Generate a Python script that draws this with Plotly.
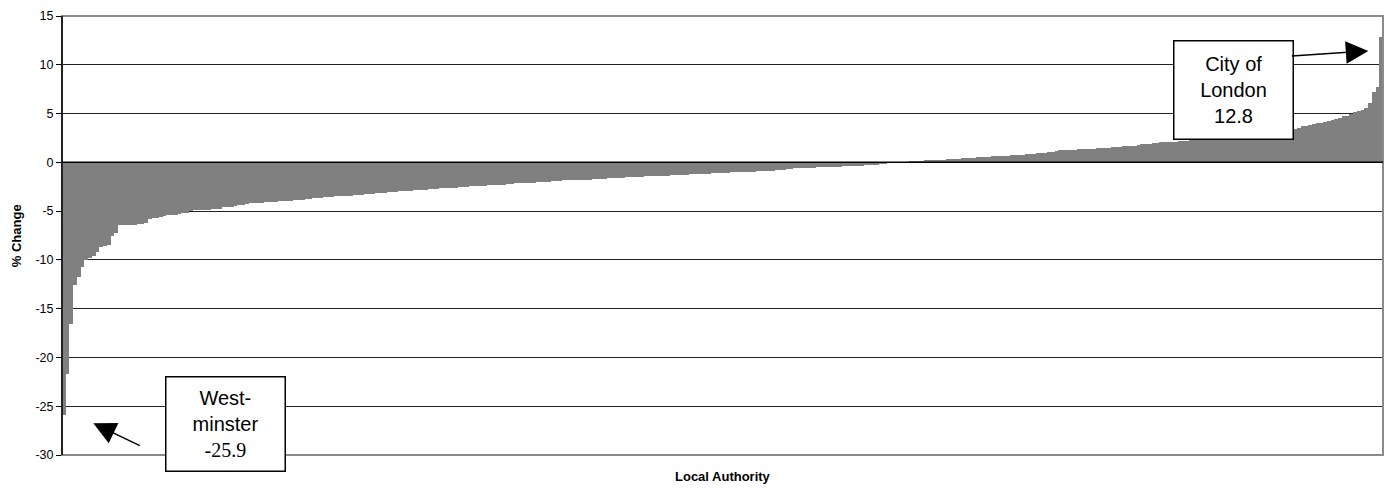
import plotly.graph_objects as go

# % change per local authority, sorted ascending
pct_change_falling = [
    -25.9, -21.7, -16.6, -12.6, -11.8, -10.75, -10.0, -9.8, -9.55, -9.2,
    -8.7, -8.6, -8.5, -7.5, -7.2, -6.45, -6.45, -6.4, -6.4, -6.4,
    -6.35, -6.3, -6.25, -5.8, -5.75, -5.7, -5.6, -5.55, -5.4, -5.4,
    -5.35, -5.25, -5.2, -5.15, -4.95, -4.9, -4.9, -4.9, -4.85, -4.85,
    -4.8, -4.8, -4.75, -4.6, -4.55, -4.55, -4.5, -4.4, -4.35, -4.3,
    -4.2, -4.2, -4.15, -4.15, -4.1, -4.1, -4.05, -4.05, -4.0, -3.98,
    -3.95, -3.95, -3.9, -3.85, -3.82, -3.8, -3.78, -3.7, -3.66, -3.63,
    -3.6, -3.58, -3.52, -3.5, -3.47, -3.45, -3.43, -3.4, -3.35, -3.32,
    -3.3, -3.27, -3.25, -3.2, -3.15, -3.13, -3.1, -3.08, -3.05, -3.0,
    -2.97, -2.95, -2.93, -2.9, -2.85, -2.83, -2.81, -2.8, -2.78, -2.76,
    -2.72, -2.67, -2.65, -2.63, -2.61, -2.6, -2.55, -2.5, -2.49, -2.47,
    -2.46, -2.45, -2.43, -2.41, -2.37, -2.33, -2.31, -2.29, -2.28, -2.26,
    -2.2, -2.16, -2.14, -2.13, -2.12, -2.1, -2.08, -2.03, -2.0, -1.99,
    -1.98, -1.96, -1.93, -1.88, -1.86, -1.83, -1.82, -1.81, -1.8, -1.8,
    -1.78, -1.76, -1.75, -1.74, -1.7, -1.66, -1.65, -1.64, -1.62, -1.58,
    -1.56, -1.55, -1.54, -1.53, -1.51, -1.48, -1.45, -1.44, -1.43, -1.42,
    -1.41, -1.4, -1.37, -1.34, -1.33, -1.32, -1.28, -1.25, -1.24, -1.23,
    -1.22, -1.21, -1.2, -1.17, -1.14, -1.13, -1.12, -1.1, -1.07, -1.04,
    -1.03, -1.02, -1.01, -1.0, -0.98, -0.95, -0.93, -0.92, -0.9, -0.87,
    -0.84, -0.82, -0.8, -0.76, -0.73, -0.7, -0.63, -0.61, -0.58, -0.56,
    -0.55, -0.54, -0.52, -0.49, -0.47, -0.46, -0.45, -0.44, -0.43, -0.41,
    -0.38, -0.36, -0.35, -0.34, -0.33, -0.31, -0.28, -0.26, -0.24, -0.2,
]
pct_change_near_zero = [-0.08, -0.05, -0.03, -0.01, 0.0, 0.01, 0.03, 0.05]
pct_change_rising = [
    0.15, 0.17, 0.18, 0.2, 0.2, 0.21, 0.22, 0.24, 0.28, 0.3,
    0.3, 0.32, 0.35, 0.42, 0.44, 0.45, 0.48, 0.52, 0.54, 0.55,
    0.56, 0.6, 0.63, 0.64, 0.66, 0.7, 0.73, 0.75, 0.77, 0.8,
    0.84, 0.86, 0.9, 0.94, 0.96, 1.0, 1.07, 1.1, 1.2, 1.22,
    1.24, 1.27, 1.3, 1.31, 1.32, 1.33, 1.34, 1.35, 1.4, 1.44,
    1.46, 1.48, 1.52, 1.56, 1.58, 1.62, 1.67, 1.69, 1.7, 1.72,
    1.78, 1.86, 1.89, 1.91, 1.95, 2.02, 2.04, 2.05, 2.07, 2.1,
    2.13, 2.15, 2.18, 2.22, 2.25, 2.28, 2.32, 2.35, 2.38, 2.4,
    2.42, 2.45, 2.48, 2.5, 2.53, 2.56, 2.6, 2.63, 2.67, 2.7,
    2.74, 2.78, 2.82, 2.86, 2.9, 2.95, 3.0, 3.06, 3.12, 3.2,
    3.28, 3.36, 3.45, 3.54, 3.68, 3.72, 3.86, 3.9, 4.0, 4.05,
    4.14, 4.2, 4.33, 4.48, 4.52, 4.75, 4.8, 5.0, 5.2, 5.3,
    5.38, 5.55, 6.1, 7.22, 7.74, 12.8,
]
pct_change = pct_change_falling + pct_change_near_zero + pct_change_rising
authority_rank = list(range(1, len(pct_change) + 1))

y_ticks = [-30, -25, -20, -15, -10, -5, 0, 5, 10, 15]
y_tick_text = ["-30", "-25", "-20", "-15", "-10", "-5", "0", "5", "10", "15"]
y_title = "% Change"
x_title = "Local Authority"
lowest_label = ["West-", "minster", "-25.9"]
highest_label = ["City of", "London", "12.8"]

SANS = "Arial, Liberation Sans, sans-serif"

fig = go.Figure(
    go.Bar(
        x=authority_rank,
        y=pct_change,
        marker=dict(color="#808080", line=dict(width=0)),
        hoverinfo="y",
    )
)

fig.update_layout(
    width=1388,
    height=488,
    margin=dict(l=62, r=5, t=16, b=33),
    paper_bgcolor="white",
    plot_bgcolor="white",
    bargap=0,
    showlegend=False,
    font=dict(family=SANS, color="black"),
)
fig.update_xaxes(
    range=[0.5, len(pct_change) + 0.5],
    showticklabels=False,
    showgrid=False,
    zeroline=False,
    ticks="",
    showline=False,
    automargin=False,
)
fig.update_yaxes(
    range=[-30, 15],
    tickvals=y_ticks,
    ticktext=y_tick_text,
    ticks="outside",
    ticklen=5,
    tickwidth=1,
    tickcolor="black",
    tickfont=dict(family=SANS, size=12.5, color="black"),
    showgrid=True,
    gridcolor="#222222",
    gridwidth=1,
    zeroline=False,
    showline=False,
    automargin=False,
)

# frame, left axis and zero line
fig.add_shape(type="rect", xref="paper", yref="paper", x0=0, x1=1, y0=0, y1=1,
              line=dict(color="#8a8a8a", width=2), layer="above")
fig.add_shape(type="line", xref="paper", yref="paper", x0=0, x1=0, y0=0, y1=1,
              line=dict(color="black", width=1.5), layer="above")
fig.add_shape(type="line", xref="paper", yref="y", x0=0, x1=1, y0=0, y1=0,
              line=dict(color="black", width=1.5), layer="above")

# axis titles
fig.add_annotation(text="<b>%s</b>" % y_title, xref="paper", yref="paper",
                   x=-0.0343, y=0.5, xanchor="center", yanchor="middle",
                   textangle=-90, showarrow=False,
                   font=dict(family=SANS, size=13, color="black"))
fig.add_annotation(text="<b>%s</b>" % x_title, xref="paper", yref="paper",
                   x=0.5, y=-0.05, xanchor="center", yanchor="middle",
                   showarrow=False,
                   font=dict(family=SANS, size=13, color="black"))

# callout boxes
fig.add_annotation(
    text="%s<br>%s<br><span style=\"font-family:Liberation Serif, Times New Roman, serif\">%s</span>"
    % tuple(lowest_label),
    xref="paper", yref="paper", x=0.1234, y=0.0702,
    xanchor="center", yanchor="middle", showarrow=False,
    width=118, height=93, borderpad=0, borderwidth=1.5, bordercolor="black",
    bgcolor="white", font=dict(family=SANS, size=20, color="black"),
)
fig.add_annotation(
    text="<br>".join(highest_label),
    xref="paper", yref="paper", x=0.8865, y=0.8321,
    xanchor="center", yanchor="middle", showarrow=False,
    width=118, height=97, borderpad=0, borderwidth=1.5, bordercolor="black",
    bgcolor="white", font=dict(family=SANS, size=20, color="black"),
)

# arrows
fig.add_annotation(text="", xref="paper", yref="paper", x=0.0237, y=0.0722,
                   ax=48, ay=23, showarrow=True, arrowhead=2, arrowsize=3,
                   arrowwidth=1.5, arrowcolor="black", standoff=0)
fig.add_annotation(text="", xref="paper", yref="paper", x=0.9889, y=0.9203,
                   ax=-78, ay=5, showarrow=True, arrowhead=2, arrowsize=3,
                   arrowwidth=1.5, arrowcolor="black", standoff=0)

fig.write_html(
    "out.html",
    config={"displayModeBar": False},
    post_script="document.body.style.margin='0px';document.body.style.overflow='hidden';",
)
